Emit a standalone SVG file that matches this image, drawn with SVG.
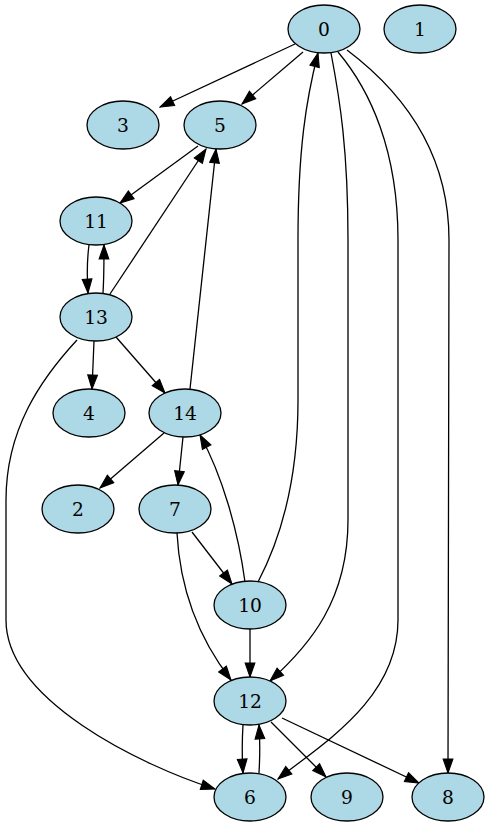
<svg xmlns="http://www.w3.org/2000/svg" width="489" height="827" viewBox="0 0 489 827">
<style>
.node ellipse{fill:#add8e6;stroke:#000;stroke-width:1.3}
.node text{font-family:"DejaVu Serif",serif;font-size:18.67px;text-anchor:middle;fill:#000}
#edges path{fill:none;stroke:#000;stroke-width:1.3;marker-end:url(#ah)}
</style>
<defs>
<marker id="ah" markerUnits="userSpaceOnUse" markerWidth="16" markerHeight="12" viewBox="-1 -1 15.3 11.33" refX="13.3" refY="4.67" orient="auto">
<path d="M0,0 L13.3,4.67 L0,9.33 z" fill="#000" stroke="#000" stroke-width="1"/>
</marker>
</defs>
<rect width="489" height="827" fill="#fff"/>
<g id="edges">
<path d="M295,44 L160,107"/>
<path d="M303,52 L242,104"/>
<path d="M258,582 C280,540 298,480 298,400 L298,240 C298,150 306,100 318,53"/>
<path d="M331,53 C340,100 348,150 348,240 L348,520 C348,600 310,645 270,681"/>
<path d="M338,52 C370,90 398,150 398,240 L398,620 C398,700 320,745 278,779"/>
<path d="M347,50 C400,90 449,150 449,240 L448,773"/>
<path d="M198,146 L120,203"/>
<path d="M89,245 C87,260 87,278 88,293"/>
<path d="M103,293 C104,278 104,260 104,245"/>
<path d="M110,294 L206,149"/>
<path d="M190,389 L216,149"/>
<path d="M94,341 L92,389"/>
<path d="M116,337 L165,393"/>
<path d="M77,340 C40,380 6,430 6,500 L6,620 C6,700 140,765 215,789"/>
<path d="M164,433 L100,488"/>
<path d="M183,437 L178,485"/>
<path d="M245,582 C238,530 222,475 200,435"/>
<path d="M192,532 L232,584"/>
<path d="M177,533 C180,590 200,640 231,680"/>
<path d="M250,629 L250,677"/>
<path d="M243,725 C242,740 242,756 243,773"/>
<path d="M259,773 C260,756 260,740 259,725"/>
<path d="M271,722 L326,777"/>
<path d="M282,718 L419,783"/>
</g>
<g id="node0" class="node"><ellipse cx="324" cy="29" rx="36" ry="24"/><text x="324" y="35.8">0</text></g>
<g id="node1" class="node"><ellipse cx="420" cy="29" rx="36" ry="24"/><text x="420" y="35.8">1</text></g>
<g id="node3" class="node"><ellipse cx="123" cy="125" rx="36" ry="24"/><text x="123" y="131.8">3</text></g>
<g id="node5" class="node"><ellipse cx="220" cy="125" rx="36" ry="24"/><text x="220" y="131.8">5</text></g>
<g id="node11" class="node"><ellipse cx="96" cy="221" rx="36" ry="24"/><text x="96" y="227.8">11</text></g>
<g id="node13" class="node"><ellipse cx="96" cy="317" rx="36" ry="24"/><text x="96" y="323.8">13</text></g>
<g id="node4" class="node"><ellipse cx="89" cy="413" rx="36" ry="24"/><text x="89" y="419.8">4</text></g>
<g id="node14" class="node"><ellipse cx="185" cy="413" rx="36" ry="24"/><text x="185" y="419.8">14</text></g>
<g id="node2" class="node"><ellipse cx="78" cy="509" rx="36" ry="24"/><text x="78" y="515.8">2</text></g>
<g id="node7" class="node"><ellipse cx="175" cy="509" rx="36" ry="24"/><text x="175" y="515.8">7</text></g>
<g id="node10" class="node"><ellipse cx="250" cy="605" rx="36" ry="24"/><text x="250" y="611.8">10</text></g>
<g id="node12" class="node"><ellipse cx="250" cy="701" rx="36" ry="24"/><text x="250" y="707.8">12</text></g>
<g id="node6" class="node"><ellipse cx="250" cy="797" rx="36" ry="24"/><text x="250" y="803.8">6</text></g>
<g id="node9" class="node"><ellipse cx="347" cy="797" rx="36" ry="24"/><text x="347" y="803.8">9</text></g>
<g id="node8" class="node"><ellipse cx="448" cy="797" rx="36" ry="24"/><text x="448" y="803.8">8</text></g>
</svg>
